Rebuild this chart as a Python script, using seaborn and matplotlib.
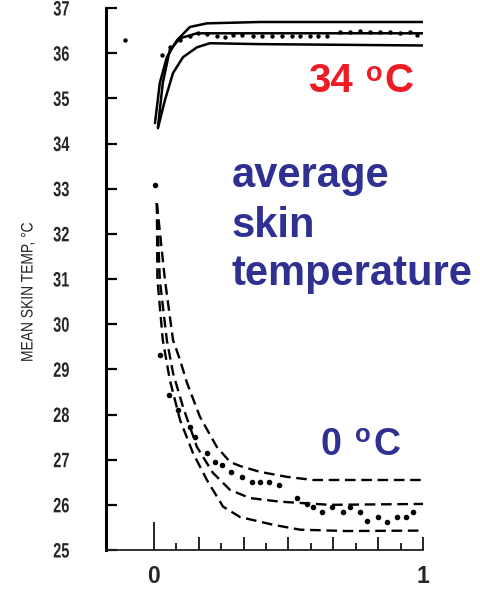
import matplotlib
matplotlib.use("Agg")
import matplotlib.pyplot as plt
from matplotlib.ticker import FixedLocator, FixedFormatter
from matplotlib.patheffects import AbstractPathEffect
from matplotlib.transforms import Affine2D
import seaborn as sns

# ---- 34 °C exposure: upper envelope, mean fit, lower envelope (solid) ----
warm_hi_x = [0.004, 0.022, 0.048, 0.086, 0.134, 0.197, 0.394, 1.0]
warm_hi_y = [34.45, 35.34, 35.91, 36.29, 36.58, 36.66, 36.69, 36.69]
warm_mid_x = [0.015, 0.033, 0.059, 0.097, 0.160, 0.219, 1.0]
warm_mid_y = [34.36, 35.34, 36.07, 36.33, 36.44, 36.44, 36.44]
warm_lo_x = [0.015, 0.041, 0.071, 0.108, 0.160, 0.208, 0.394, 1.0]
warm_lo_y = [34.34, 34.96, 35.56, 35.91, 36.13, 36.22, 36.20, 36.17]

# measured means, 34 °C
warm_pts_x = [-0.108, 0.030, 0.059, 0.097, 0.134, 0.164, 0.197, 0.234, 0.264,
              0.294, 0.327, 0.368, 0.401, 0.439, 0.476, 0.513, 0.543, 0.580,
              0.610, 0.643, 0.691, 0.729, 0.766, 0.803, 0.840, 0.877, 0.914,
              0.952, 0.978]
warm_pts_y = [36.29, 35.96, 36.13, 36.29, 36.37, 36.44, 36.42, 36.37, 36.35,
              36.40, 36.40, 36.37, 36.37, 36.37, 36.37, 36.37, 36.37, 36.37,
              36.37, 36.37, 36.46, 36.46, 36.48, 36.46, 36.46, 36.46, 36.44,
              36.46, 36.40]

# ---- 0 °C exposure: upper envelope, mean fit, lower envelope (dashed) ----
cold_hi_x = [0.011, 0.041, 0.071, 0.097, 0.123, 0.171, 0.234, 0.283, 0.320,
             0.394, 0.494, 0.591, 1.0]
cold_hi_y = [32.68, 30.98, 29.65, 29.21, 28.70, 27.95, 27.28, 26.95, 26.86,
             26.73, 26.62, 26.55, 26.55]
cold_mid_x = [0.011, 0.022, 0.048, 0.071, 0.108, 0.160, 0.219, 0.283, 0.357,
              0.468, 0.654, 1.0]
cold_mid_y = [32.68, 30.98, 29.65, 28.92, 28.17, 27.28, 26.71, 26.33, 26.15,
              26.07, 26.00, 26.02]
cold_lo_x = [0.011, 0.013, 0.033, 0.059, 0.097, 0.145, 0.197, 0.257, 0.320,
             0.442, 0.543, 0.717, 1.0]
cold_lo_y = [32.68, 31.00, 29.65, 28.77, 27.88, 27.15, 26.55, 25.96, 25.73,
             25.56, 25.45, 25.42, 25.43]

# measured means, 0 °C
cold_pts_x = [0.004, 0.022, 0.056, 0.089, 0.134, 0.152, 0.197, 0.227, 0.253,
              0.286, 0.327, 0.364, 0.394, 0.428, 0.465, 0.532, 0.569, 0.591,
              0.625, 0.662, 0.703, 0.729, 0.766, 0.792, 0.833, 0.866, 0.903,
              0.937, 0.963]
cold_pts_y = [33.08, 29.32, 28.43, 28.10, 27.73, 27.50, 27.15, 26.95, 26.88,
              26.73, 26.62, 26.51, 26.51, 26.51, 26.44, 26.15, 26.02, 25.96,
              25.85, 25.96, 25.85, 25.96, 25.85, 25.65, 25.73, 25.62, 25.73,
              25.73, 25.85]

y_ticks = list(range(25, 38))
x_major = [k / 6 for k in range(7)]
x_minor = [k / 12 for k in range(1, 12, 2)]
x_labels = ["0", "", "", "", "", "", "1"]

RED = "#ed1c24"
BLUE = "#2e3192"


class Squeeze(AbstractPathEffect):
    """Draw text glyphs compressed along the writing direction."""

    def __init__(self, sx):
        super().__init__()
        self.sx = sx

    def draw_path(self, renderer, gc, tpath, affine, rgbFace=None):
        renderer.draw_path(gc, tpath, Affine2D().scale(self.sx, 1.0) + affine, rgbFace)


sns.set_style("white")
plt.rcParams["font.family"] = ["Liberation Sans", "DejaVu Sans"]

W, H = 481, 589
fig = plt.figure(figsize=(W / 100, H / 100), dpi=100)
ax = fig.add_axes([106 / W, 39 / H, 317 / W, 542 / H])

for xs, ys in [(warm_hi_x, warm_hi_y), (warm_mid_x, warm_mid_y), (warm_lo_x, warm_lo_y)]:
    sns.lineplot(x=xs, y=ys, ax=ax, color="black", lw=1.8, sort=False, estimator=None)

for xs, ys in [(cold_hi_x, cold_hi_y), (cold_mid_x, cold_mid_y), (cold_lo_x, cold_lo_y)]:
    sns.lineplot(x=xs, y=ys, ax=ax, color="black", lw=1.7, sort=False,
                 estimator=None, linestyle=(0, (4.5, 2.4)))

sns.scatterplot(x=warm_pts_x, y=warm_pts_y, ax=ax, color="black", s=10, linewidth=0)
sns.scatterplot(x=cold_pts_x, y=cold_pts_y, ax=ax, color="black", s=16, linewidth=0)

ax.set_xlim(-0.178, 1.0)
ax.set_ylim(25, 37)

sns.despine(ax=ax)
ax.spines["left"].set_linewidth(2.2)
ax.spines["left"].set_color("black")
ax.spines["bottom"].set_linewidth(1.3)
ax.spines["bottom"].set_color("#222222")

# y axis: inward ticks, narrow numerals
ax.yaxis.set_major_locator(FixedLocator(y_ticks))
ax.yaxis.set_major_formatter(FixedFormatter([str(v) for v in y_ticks]))
ax.tick_params(axis="y", which="major", direction="in", length=8, width=1.6,
               color="black", pad=21.3, labelsize=15, left=True)
for tick in ax.yaxis.get_major_ticks():
    tick.label1.set_fontweight("bold")
    tick.label1.set_path_effects([Squeeze(0.7)])

# x axis: ticks every 1/12, labels only at the ends
ax.xaxis.set_major_locator(FixedLocator(x_major))
ax.xaxis.set_major_formatter(FixedFormatter(x_labels))
ax.xaxis.set_minor_locator(FixedLocator(x_minor))
ax.tick_params(axis="x", which="major", direction="in", length=9.5, width=1.2,
               color="black", pad=11, labelsize=16.5, bottom=True)
ax.tick_params(axis="x", which="minor", direction="in", length=5, width=1.2,
               color="black", bottom=True)
for lab in ax.get_xticklabels():
    lab.set_fontweight("bold")
ax.xaxis.get_major_ticks()[0].tick1line.set_markersize(20)

# axis title in a narrow, typewriter-like setting, written bottom-to-top
ax.set_ylabel("MEAN SKIN TEMP, °C", fontsize=12)
ax.yaxis.label.set_horizontalalignment("left")
ax.yaxis.label.set_verticalalignment("center")
ax.yaxis.label.set_path_effects([Squeeze(0.83)])
ax.yaxis.set_label_coords((28 - 106) / 317, (550 - 362) / 542)
ax.set_xlabel("")


def degree_label(text, x_px, base_px, size, sup_size, gap1, gap2, lift_px, color):
    """Number, raised small 'o', then 'C' on the number's baseline."""
    px = 100 / 72
    num = ax.annotate(text, xy=(x_px / W, 1 - base_px / H), xycoords="figure fraction",
                      fontsize=size, fontweight="bold", color=color,
                      ha="left", va="baseline", annotation_clip=False)
    d_num = 0.212 * size * px
    d_sup = 0.212 * sup_size * px
    raise_pt = (lift_px + d_num - d_sup) / px
    sup = ax.annotate("o", xy=(1, 0), xycoords=num, xytext=(gap1, raise_pt),
                      textcoords="offset points", fontsize=sup_size,
                      fontweight="bold", color=color, ha="left", va="bottom",
                      annotation_clip=False)
    ax.annotate("C", xy=(1, 0), xycoords=(sup, num), xytext=(gap2, 0),
                textcoords="offset points", fontsize=size, fontweight="bold",
                color=color, ha="left", va="bottom", annotation_clip=False)


degree_label("34", 308, 92, 29, 19.5, 9.5, 1.5, 10, RED)
degree_label("0", 320, 455, 27, 18.5, 10.5, 2, 13, BLUE)

for word, base in [("average", 187), ("skin", 237), ("temperature", 285)]:
    fig.text(232 / W, 1 - base / H, word, color=BLUE, fontsize=30,
             fontweight="bold", ha="left", va="baseline")

fig.savefig("out.png", dpi=100)
